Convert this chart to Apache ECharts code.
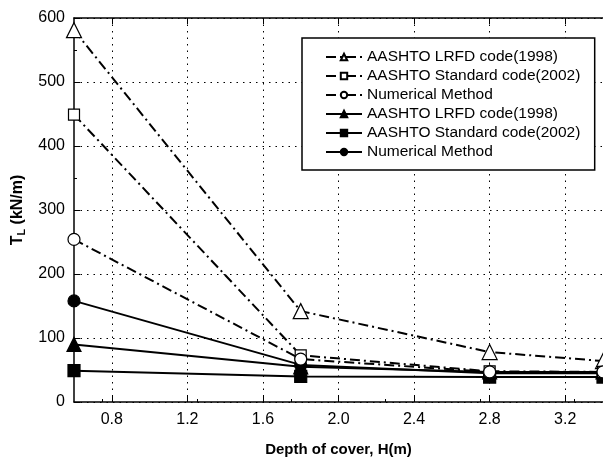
<!DOCTYPE html>
<html>
<head>
<meta charset="utf-8">
<script src="https://cdn.jsdelivr.net/npm/echarts@6/dist/echarts.min.js"></script>
<style>html,body{margin:0;padding:0;background:#fff}#c{width:603px;height:462px}</style>
</head>
<body>
<div id="c"></div>
<script>
var depth = [0.6, 1.8, 2.8, 3.4];
var lrfdCode = [581, 142, 78, 64];
var stdCode = [449, 73, 48, 47];
var numMethodA = [254, 67, 47, 47];
var lrfdFilled = [90, 55, 47, 47];
var stdFilled = [49, 40, 39, 39];
var numFilled = [158, 58, 45, 45];
var xTicks = [0.8, 1.2, 1.6, 2.0, 2.4, 2.8, 3.2];
var names = ['AASHTO LRFD code(1998)', 'AASHTO Standard code(2002)', 'Numerical Method',
             'AASHTO LRFD code(1998) ', 'AASHTO Standard code(2002) ', 'Numerical Method '];

function pts(v){ return depth.map(function(d,i){ return [d, v[i]]; }); }
var dashDot = [10, 4, 2, 4];
function mk(name, vals, sym, size, filled, dashed){
  return {
    name: name, type: 'line', data: pts(vals), symbol: sym, symbolSize: size,
    itemStyle: {color: filled ? '#000' : '#fff', borderColor: '#000', borderWidth: 1.2},
    lineStyle: {color: '#000', width: 2, type: dashed ? dashDot : 'solid'},
    z: filled ? 3 : 4, animation: false
  };
}
var chart = echarts.init(document.getElementById('c'));
var font = 'Liberation Sans, Arial, sans-serif';
chart.setOption({
  animation: false,
  textStyle: {fontFamily: font},
  grid: {left: 74, top: 18, width: 530, height: 385},
  legend: {
    orient: 'vertical', left: 302, top: 38, width: 295,
    padding: [11, 10, 10, 23], borderColor: '#000', borderWidth: 1.5,
    itemWidth: 36, itemHeight: 8, itemGap: 3,
    backgroundColor: '#fff',
    textStyle: {fontFamily: font, fontSize: 15.5, color: '#000', lineHeight: 16},
    data: names
  },
  xAxis: [{
    type: 'value', min: 0.6, max: 3.4,
    name: 'Depth of cover, H(m)', nameLocation: 'middle', nameGap: 40,
    nameTextStyle: {fontFamily: font, fontSize: 15, fontWeight: 'bold', color: '#000'},
    axisLine: {show: true, lineStyle: {color: '#000', width: 1.5}},
    axisTick: {show: true, inside: true, length: 6, customValues: xTicks, lineStyle: {color: '#000'}},
    axisLabel: {customValues: xTicks, fontFamily: font, fontSize: 16, color: '#000', margin: 10,
      formatter: function(v){ return v.toFixed(1); }},
    splitLine: {show: true, lineStyle: {color: '#000', type: [1.5, 5], width: 1}},
    minorTick: {show: true, splitNumber: 2, length: 3, lineStyle: {color: '#000'}}
  }, {
    type: 'value', min: 0.6, max: 3.4, position: 'top',
    axisLine: {show: true, lineStyle: {color: '#000', width: 1.5}},
    axisTick: {show: true, inside: true, length: 6, customValues: xTicks, lineStyle: {color: '#000'}},
    axisLabel: {show: false},
    splitLine: {show: false}
  }],
  yAxis: [{
    type: 'value', min: 0, max: 600, interval: 100,
    name: 'T{s|L} (kN/m)', nameLocation: 'middle', nameGap: 47, nameRotate: 90,
    nameTextStyle: {fontFamily: font, fontSize: 16, fontWeight: 'bold', color: '#000',
      rich: {s: {fontFamily: font, fontSize: 11, fontWeight: 'bold', verticalAlign: 'bottom', padding: [8, 0, 0, 0]}}},
    axisLine: {show: true, lineStyle: {color: '#000', width: 1.5}},
    axisTick: {show: true, inside: true, length: 6, lineStyle: {color: '#000'}},
    minorTick: {show: true, splitNumber: 2, length: 3, lineStyle: {color: '#000'}},
    axisLabel: {fontFamily: font, fontSize: 16, color: '#000', margin: 9},
    splitLine: {show: true, lineStyle: {color: '#000', type: [1.5, 5], width: 1}}
  }],
  series: [
    mk(names[0], lrfdCode, 'triangle', 15, false, true),
    mk(names[1], stdCode, 'rect', 11, false, true),
    mk(names[2], numMethodA, 'circle', 12, false, true),
    mk(names[3], lrfdFilled, 'triangle', 14, true, false),
    mk(names[4], stdFilled, 'rect', 12, true, false),
    mk(names[5], numFilled, 'circle', 12, true, false)
  ]
});
</script>
</body>
</html>
